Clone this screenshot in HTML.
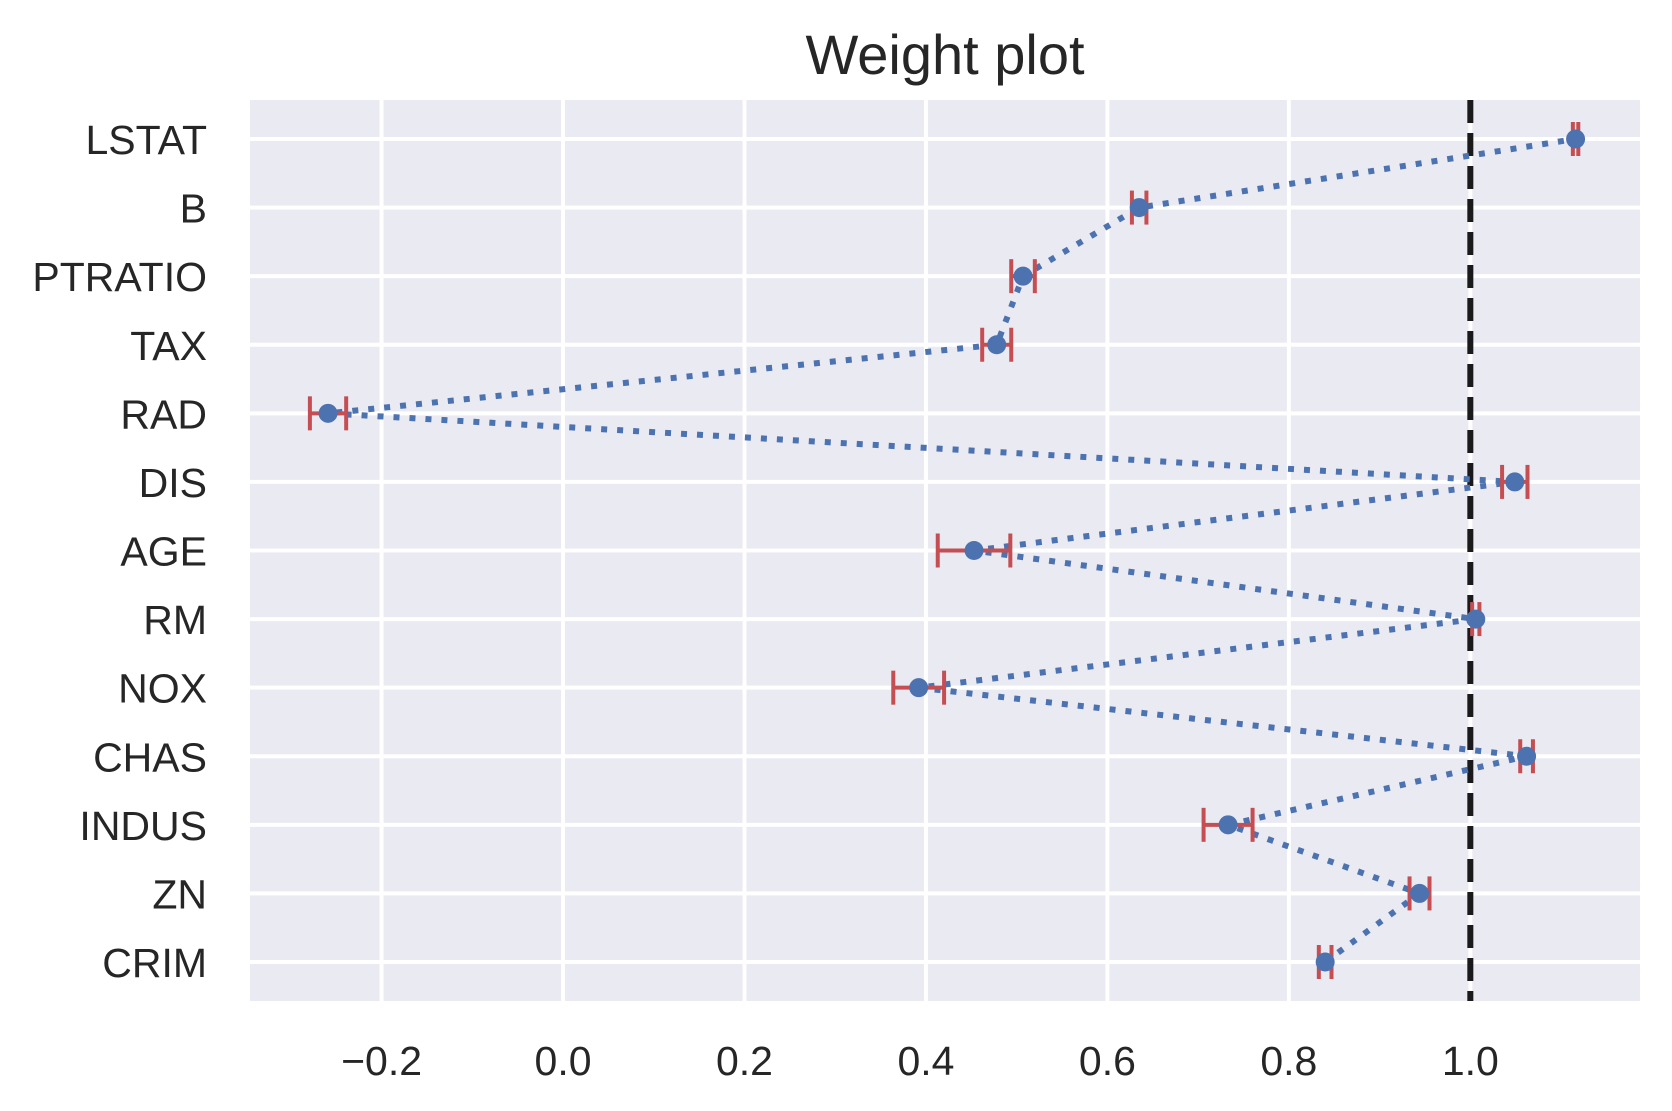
<!DOCTYPE html>
<html><head><meta charset="utf-8"><style>
html,body{margin:0;padding:0;background:#fff;}
svg{display:block;font-family:"Liberation Sans","DejaVu Sans",sans-serif;}
</style></head><body>
<svg id="chart" width="1672" height="1111" viewBox="0 0 1672 1111" xmlns="http://www.w3.org/2000/svg">
<text x="945" y="74" font-size="56" text-anchor="middle" fill="#262626">Weight plot</text>
<rect x="250" y="100" width="1390" height="901" fill="#eaeaf2"/>
<g id="grid"></g>
<g id="ticks"></g>
<g id="marks"></g>
</svg>
<script>
const categories = ["CRIM","ZN","INDUS","CHAS","NOX","RM","AGE","DIS","RAD","TAX","PTRATIO","B","LSTAT"];
const weights = [0.840,0.944,0.733,1.062,0.392,1.006,0.453,1.049,-0.259,0.478,0.507,0.635,1.116];
const errors = [0.007,0.011,0.027,0.007,0.028,0.004,0.040,0.014,0.020,0.016,0.013,0.008,0.003];
const xTicks = [-0.2,0.0,0.2,0.4,0.6,0.8,1.0];
const xTickLabels = ["\u22120.2","0.0","0.2","0.4","0.6","0.8","1.0"];
const refValue = 1.0;

const NS="http://www.w3.org/2000/svg";
const L=250,R=1640,T=100,B=1001;
const xMin=-0.345,xMax=1.187;
function xs(v){return L+(v-xMin)/(xMax-xMin)*(R-L);}
function ys(i){return 962-i*(962-139)/12;}
function mk(tag,attrs,parent){const e=document.createElementNS(NS,tag);for(const k in attrs)e.setAttribute(k,attrs[k]);parent.appendChild(e);return e;}
const grid=document.getElementById('grid'),ticks=document.getElementById('ticks'),marks=document.getElementById('marks');

xTicks.forEach((t,i)=>{
  const g=mk('line',{x1:xs(t),x2:xs(t),y1:T,y2:B,stroke:'#fff','stroke-width':4},grid);
  
  
  const tx=mk('text',{x:xs(t),y:1075,'font-size':41,'text-anchor':'middle',fill:'#262626'},ticks);
  tx.textContent=xTickLabels[i];
  
  
});
categories.forEach((c,i)=>{
  const g=mk('line',{x1:L,x2:R,y1:ys(i),y2:ys(i),stroke:'#fff','stroke-width':4},grid);
  
  
  const tx=mk('text',{x:207,y:ys(i)+15,'font-size':41,'text-anchor':'end',fill:'#262626'},ticks);
  tx.textContent=c;
  
  
});

const ref=mk('line',{x1:xs(refValue),x2:xs(refValue),y1:T,y2:B,stroke:'#1a1a1a','stroke-width':6,'stroke-dasharray':'23 10'},marks);



const pts=weights.map((w,i)=>xs(w)+','+ys(i)).join(' ');
const pl=mk('polyline',{points:pts,fill:'none',stroke:'#4c72b0','stroke-width':6,'stroke-dasharray':'6 10'},marks);



weights.forEach((w,i)=>{
  const y=ys(i),x1=xs(w-errors[i]),x2=xs(w+errors[i]);
  const g=mk('g',{stroke:'#c44e52','stroke-width':4},marks);
  
  
  mk('line',{x1:x1,x2:x2,y1:y,y2:y},g);
  mk('line',{x1:x1,x2:x1,y1:y-17,y2:y+17},g);
  mk('line',{x1:x2,x2:x2,y1:y-17,y2:y+17},g);
});
weights.forEach((w,i)=>{
  const c=mk('circle',{cx:xs(w),cy:ys(i),r:9.5,fill:'#4c72b0'},marks);
  
  
});
</script>
</body></html>
